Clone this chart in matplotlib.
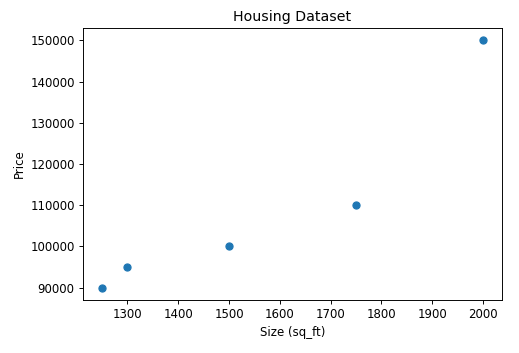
import matplotlib
matplotlib.use("Agg")
import matplotlib.pyplot as plt

size_sq_ft = [1250, 1300, 1500, 1750, 2000]
price = [90000, 95000, 100000, 110000, 150000]

dpi = 85
fig = plt.figure(figsize=(519 / dpi, 353 / dpi), dpi=dpi)
ax = fig.add_axes([83 / 519, 1 - 300 / 353, (502 - 83) / 519, (300 - 28) / 353])

ax.scatter(size_sq_ft, price)
ax.set_title("Housing Dataset")
ax.set_xlabel("Size (sq_ft)")
ax.set_ylabel("Price")

fig.savefig("out.png", dpi=dpi)
